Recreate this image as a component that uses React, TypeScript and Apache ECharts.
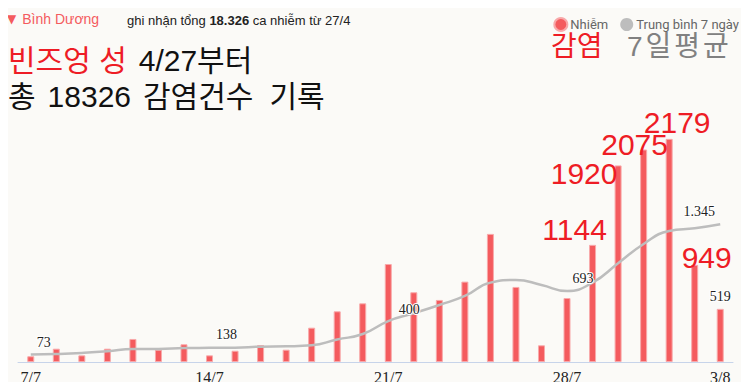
import React, { useEffect, useRef } from "react";
import * as echarts from "echarts";

const categories = [
  "7/7", "8/7", "9/7", "10/7", "11/7", "12/7", "13/7", "14/7", "15/7", "16/7",
  "17/7", "18/7", "19/7", "20/7", "21/7", "22/7", "23/7", "24/7", "25/7", "26/7",
  "27/7", "28/7", "29/7", "30/7", "31/7", "1/8", "2/8", "3/8",
];
const dailyCases = [
  56, 130, 65, 130, 225, 120, 173, 65, 110, 166,
  120, 335, 495, 573, 957, 681, 606, 785, 1251, 733,
  163, 625, 1144, 1920, 2075, 2179, 949, 519,
];
const avg7 = [
  73, 78, 88, 104, 127, 127, 136, 138, 140, 150,
  153, 163, 220, 273, 400, 476, 557, 645, 775, 801,
  752, 693, 775, 964, 1153, 1280, 1306, 1345,
];
// indices of labelled points
const avgLabelIdx = [0, 7, 14, 21, 27];
const avgLabelText = ["73", "138", "400", "693", "1.345"];
const avgLabelOffset = [[13, 0], [17, -1], [21, 0], [16, -1], [-21, -1]];
const bigLabelIdx = [22, 23, 24, 25, 26];
const bigLabelOffset = [[-18, 0], [-34, 23], [-9, 10], [8, -1], [12, 8]];
const smallBarLabelIdx = [27];

const RED = "#f45b5e";
const GRAY = "#bdbdbd";
const KFONT = "'Liberation Sans', 'Noto Sans CJK KR', sans-serif";
const SERIF = "'Liberation Serif', serif";

export default function App() {
  const ref = useRef<HTMLDivElement>(null);
  useEffect(() => {
    if (!ref.current) return;
    const chart = echarts.init(ref.current, undefined, { renderer: "svg" });
    const barData = dailyCases.map((v, i) => {
      const bi = bigLabelIdx.indexOf(i);
      if (bi >= 0) {
        return {
          value: v,
          label: {
            show: true,
            position: "top",
            distance: 0,
            offset: bigLabelOffset[bi],
            formatter: String(v),
            fontFamily: "'Liberation Sans', Arial, sans-serif",
            fontSize: 30,
            color: "#ee1c25",
          },
        };
      }
      if (smallBarLabelIdx.indexOf(i) >= 0) {
        return {
          value: v,
          label: {
            show: true,
            position: "top",
            distance: 5,
            formatter: String(v),
            fontFamily: SERIF,
            fontSize: 14,
            color: "#222",
            textBorderColor: "#fff",
            textBorderWidth: 2,
          },
        };
      }
      return { value: v };
    });
    const lineData = avg7.map((v, i) => {
      const li = avgLabelIdx.indexOf(i);
      if (li >= 0) {
        return {
          value: v,
          label: {
            show: true,
            position: "top",
            distance: 5,
            offset: avgLabelOffset[li],
            formatter: avgLabelText[li],
            fontFamily: SERIF,
            fontSize: 14,
            color: "#222",
            textBorderColor: "#fff",
            textBorderWidth: 2,
          },
        };
      }
      return { value: v };
    });
    const k = { color: "#111", fontSize: 30, lineHeight: 36, fontWeight: "normal", fontFamily: KFONT };
    chart.setOption({
      animation: false,
      backgroundColor: "#fbfaf7",
      title: [
        {
          text: "{a|▼}{b|Bình Dương}",
          left: 2,
          top: 7,
          textStyle: {
            fontWeight: "normal",
            rich: {
              a: { color: RED, fontSize: 12, fontWeight: "normal", fontFamily: "'DejaVu Sans', sans-serif" },
              b: { color: RED, fontSize: 14, fontWeight: "normal", fontFamily: "'Liberation Sans', sans-serif", padding: [0, 0, 0, 6] },
            },
          },
        },
        {
          text: "{n|ghi nhận tổng }{b|18.326}{n| ca nhiễm từ 27/4}",
          left: 122,
          top: 9,
          textStyle: {
            fontWeight: "normal",
            rich: {
              n: { color: "#222", fontSize: 13, fontWeight: "normal", fontFamily: "'Liberation Sans', sans-serif" },
              b: { color: "#222", fontSize: 13, fontWeight: "bold", fontFamily: "'Liberation Sans', sans-serif" },
            },
          },
        },
        {
          text: "{r|빈즈엉 성}{k1|4/27부터}\n{k|총}{k1|18326}{k1|감염건수}{k2|기록}",
          left: 3,
          top: 37,
          textStyle: {
            fontWeight: "normal",
            rich: {
              r: { ...k, color: "#ee1c25" },
              k: k,
              k1: { ...k, padding: [0, 0, 0, 12] },
              k2: { ...k, padding: [0, 0, 0, 16] },
            },
          },
        },
        {
          text: "감염",
          left: 546,
          top: 27,
          textStyle: { color: "#ee1c25", fontSize: 28, lineHeight: 28, fontWeight: "normal", fontFamily: KFONT },
        },
        {
          text: "{d|7}{h|일}{h|평}{h|균}",
          left: 622,
          top: 27,
          textStyle: {
            fontWeight: "normal",
            rich: {
              d: { color: "#808080", fontSize: 28, lineHeight: 28, fontWeight: "normal", fontFamily: KFONT },
              h: { color: "#808080", fontSize: 28, lineHeight: 28, fontWeight: "normal", fontFamily: KFONT, padding: [0, 0, 0, 3] },
            },
          },
        },
      ],
      legend: {
        right: 5,
        top: 12,
        icon: "circle",
        itemWidth: 13,
        itemHeight: 13,
        itemGap: 12,
        textStyle: { color: "#666", fontSize: 13, fontFamily: "Roboto, sans-serif", padding: [0, 0, 0, -2] },
        data: ["Nhiễm", "Trung bình 7 ngày"],
      },
      grid: { left: 18, right: 16, top: 106, bottom: 28 },
      xAxis: {
        type: "category",
        data: categories,
        boundaryGap: true,
        axisLine: { lineStyle: { color: "#c7d4ea", width: 1 } },
        axisTick: { show: false },
        axisLabel: {
          interval: 6,
          color: "#222",
          fontSize: 16,
          fontFamily: SERIF,
          margin: 7,
          showMaxLabel: true,
        },
      },
      yAxis: {
        type: "value",
        min: 0,
        max: 2500,
        show: false,
        splitLine: { show: false },
      },
      series: [
        {
          name: "Nhiễm",
          type: "bar",
          data: barData,
          barWidth: 7,
          itemStyle: { color: RED, borderColor: "#f8a9aa", borderWidth: 1 },
          z: 2,
        },
        {
          name: "Trung bình 7 ngày",
          type: "line",
          data: lineData,
          smooth: true,
          showSymbol: true,
          symbol: "circle",
          symbolSize: 0,
          lineStyle: { color: GRAY, width: 2.5 },
          itemStyle: { color: GRAY },
          z: 3,
        },
      ],
    });
    return () => chart.dispose();
  }, []);
  return <div ref={ref} style={{ width: 749, height: 390, margin: -8 }} />;
}
